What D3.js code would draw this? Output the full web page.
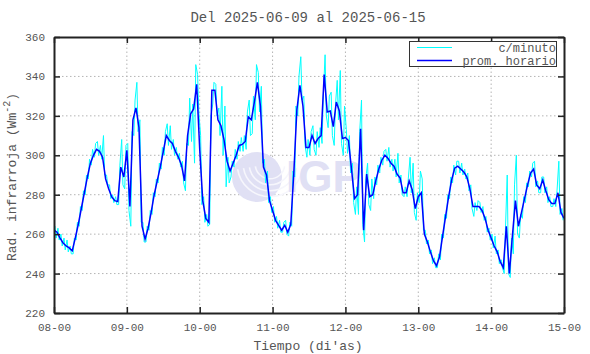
<!DOCTYPE html>
<html>
<head>
<meta charset="utf-8">
<script src="https://cdn.jsdelivr.net/npm/d3@7"></script>
<style>
  body { margin: 0; background: #fff; }
  text { font-family: "Liberation Mono", "DejaVu Sans Mono", monospace; fill: #555; }
</style>
</head>
<body>
<script>
let width = 590
let height = 354
let margin = { left: 54, right: 26, top: 37, bottom: 41 }

// etiquetas de los ejes
const diasLabels = ['08-00', '09-00', '10-00', '11-00', '12-00', '13-00', '14-00', '15-00']
const yTicks = [220, 240, 260, 280, 300, 320, 340, 360]

// promedio horario (Wm-2), una muestra por hora desde 08-00
const promHorario = [
  262, 261, 258, 255.5, 254, 253, 251.5, 258, 265, 273, 281, 289,
  296, 300, 303, 302, 299, 288, 283, 279, 277, 276.5, 294, 289,
  302.5, 274, 318, 324, 314, 264, 257.5, 263, 271, 280, 287, 294,
  302, 310, 307.5, 306, 302, 299, 295, 287, 310, 321, 323.5, 336,
  303, 277, 268, 266, 333, 333, 318, 315, 308, 297, 292, 296,
  300, 305, 305.5, 307, 319.5, 318, 327, 337, 325, 294, 290, 277,
  272, 267, 264.5, 262, 264.5, 261, 265, 291, 323, 335.5, 325, 304,
  304, 310, 306, 308.5, 310, 341, 322, 322.5, 314.5, 327, 322.5, 308.5,
  309, 307.5, 293, 278, 280, 313.5, 262, 290.5, 279, 280, 287, 293,
  297.5, 300, 298.5, 296, 294.5, 290.5, 288.5, 281, 281, 287, 282.5, 273,
  279, 281, 260, 256, 251, 246.5, 244, 248.5, 259, 269, 279, 287.5,
  293.5, 294.5, 293, 291.5, 289, 283, 274, 274, 274, 272, 268, 262,
  258, 254, 251, 246, 243, 264, 240, 259, 277, 264, 271, 278,
  285, 291, 293, 285, 283, 287.5, 282, 277.5, 275.5, 275.5, 281, 271,
  268
]

// datos por minuto: minimo y maximo dentro de cada hora
const cMin = [
  258, 257, 254, 252, 251, 250, 250, 257, 264, 272, 280, 288,
  295, 299, 300, 298, 290, 285, 278, 276, 275, 275, 285, 283,
  272, 264, 310, 312, 266, 256, 256, 262, 270, 279, 286, 293,
  300, 305, 303, 300, 298, 294, 286, 282, 305, 307, 296, 322,
  275, 266, 264, 265, 326, 320, 310, 300, 284, 286, 289, 294,
  298, 302, 302, 303, 310, 311, 318, 322, 296, 286, 276, 271,
  266, 263, 261, 261, 260, 259, 264, 289, 320, 328, 305, 299,
  300, 303, 300, 304, 306, 320, 314, 310, 305, 318, 306, 300,
  301, 291, 276, 270, 270, 265, 256, 275, 272, 278, 285, 291,
  295, 297, 294, 292, 289, 286, 280, 279, 279, 281, 271, 267,
  276, 262, 255, 250, 245, 243, 243, 247, 258, 268, 278, 286,
  290, 291, 290, 288, 282, 273, 269, 272, 271, 267, 261, 257,
  253, 250, 245, 243, 240, 240, 238, 250, 260, 258, 268, 276,
  284, 289, 284, 281, 281, 281, 276, 274, 274, 274, 270, 267
]
const cMax = [
  264, 263, 260, 258, 257, 254, 258, 266, 274, 282, 290, 298,
  303, 306, 307, 305, 310, 290, 285, 280, 279, 295, 308, 305,
  306, 312, 328, 337, 318, 266, 264, 272, 281, 288, 296, 304,
  312, 316, 315, 308, 304, 301, 297, 306, 329, 326, 346, 341,
  310, 279, 270, 320, 337, 336, 324, 335, 325, 299, 297, 303,
  307, 309, 310, 322, 328, 330, 346, 342, 335, 298, 292, 279,
  274, 269, 267, 266, 267, 266, 292, 325, 340, 350, 330, 308,
  312, 315, 312, 314, 330, 351, 330, 332, 325, 338, 343, 325,
  313, 310, 296, 284, 312, 328, 288, 296, 288, 289, 295, 299,
  302, 303, 304, 298, 298, 301, 290, 284, 288, 299, 296, 281,
  292, 288, 262, 257, 252, 248, 250, 260, 270, 280, 289, 295,
  297, 297, 296, 293, 291, 285, 276, 277, 276, 274, 269, 263,
  260, 259, 252, 247, 262, 290, 258, 285, 300, 270, 279, 286,
  292, 296, 297, 287, 289, 289, 284, 279, 278, 282, 297, 273
]

let svg = d3.select('body')
  .append('svg')
  .attr('width', width)
  .attr('height', height)

let x = d3.scaleLinear()
  .domain([0, 168])
  .range([margin.left, width - margin.right])

let y = d3.scaleLinear()
  .domain([220, 360])
  .range([height - margin.bottom, margin.top])

let x0 = margin.left, x1 = width - margin.right
let y0 = height - margin.bottom, y1 = margin.top
let dayTicks = diasLabels.map((d, i) => i * 24)

// rejilla punteada
let grid = svg.append('g')
grid.selectAll('.gx')
  .data(dayTicks.slice(1, -1))
  .enter().append('line')
  .attr('x1', d => x(d)).attr('x2', d => x(d))
  .attr('y1', y0).attr('y2', y1)
grid.selectAll('.gy')
  .data(yTicks.slice(1, -1))
  .enter().append('line')
  .attr('x1', x0).attr('x2', x1)
  .attr('y1', d => y(d)).attr('y2', d => y(d))
grid.selectAll('line')
  .attr('stroke', '#b4b4b4')
  .attr('stroke-width', 1)
  .attr('stroke-dasharray', '1.5,2.5')

// marca de agua IGP
let wm = svg.append('g')
wm.append('circle')
  .attr('cx', 257).attr('cy', 177).attr('r', 25)
  .attr('fill', '#e0e0f4')
let arcs = [14, 20, 26, 32]
arcs.forEach(r => {
  wm.append('path')
    .attr('d', d3.arc()({ innerRadius: r, outerRadius: r + 1.6, startAngle: Math.PI * 0.55, endAngle: Math.PI * 1.45 }))
    .attr('transform', 'translate(270,164)')
    .attr('fill', '#f6f6fc')
})
wm.append('text')
  .attr('x', 286).attr('y', 192)
  .style('font-family', '"Liberation Sans", Arial, sans-serif')
  .style('font-weight', 'bold')
  .style('font-size', '44px')
  .style('fill', '#e0e0f4')
  .text('IGP')

svg.append('clipPath').attr('id', 'clip')
  .append('rect')
  .attr('x', x0).attr('y', y1)
  .attr('width', x1 - x0).attr('height', y0 - y1)

// serie por minuto (cian)
let cyanPts = [[0, promHorario[0]]]
cMin.forEach((lo, i) => {
  let hi = cMax[i]
  if (promHorario[i + 1] >= promHorario[i]) {
    cyanPts.push([i + 0.3, lo], [i + 0.7, hi])
  } else {
    cyanPts.push([i + 0.3, hi], [i + 0.7, lo])
  }
})

let line = d3.line()
  .x(d => x(d[0]))
  .y(d => y(d[1]))

let plot = svg.append('g').attr('clip-path', 'url(#clip)')
plot.append('path')
  .datum(cyanPts)
  .attr('d', line)
  .attr('fill', 'none')
  .attr('stroke', '#00ffff')
  .attr('stroke-width', 1)

plot.append('path')
  .datum(promHorario.map((v, i) => [i, v]))
  .attr('d', line)
  .attr('fill', 'none')
  .attr('stroke', '#0000ff')
  .attr('stroke-width', 1.5)

// marco y marcas hacia dentro
let axB = d3.axisBottom(x).tickValues(dayTicks).tickFormat((d, i) => diasLabels[i]).tickSizeInner(-6).tickSizeOuter(0).tickPadding(10)
let axT = d3.axisTop(x).tickValues(dayTicks).tickFormat('').tickSizeInner(-6).tickSizeOuter(0)
let axL = d3.axisLeft(y).tickValues(yTicks).tickSizeInner(-6).tickSizeOuter(0).tickPadding(9)
let axR = d3.axisRight(y).tickValues(yTicks).tickFormat('').tickSizeInner(-6).tickSizeOuter(0)

let gB = svg.append('g').attr('transform', `translate(0,${y0})`).call(axB)
let gT = svg.append('g').attr('transform', `translate(0,${y1})`).call(axT)
let gL = svg.append('g').attr('transform', `translate(${x0},0)`).call(axL)
let gR = svg.append('g').attr('transform', `translate(${x1},0)`).call(axR)

;[gB, gT, gL, gR].forEach(g => {
  g.select('.domain').attr('stroke', '#222').attr('stroke-width', 2)
  g.selectAll('.tick line').attr('stroke', '#222').attr('stroke-width', 1.5)
  g.selectAll('.tick text')
    .style('font-family', '"Liberation Mono", monospace')
    .style('font-size', '11px')
    .style('fill', '#555')
})

// titulos
svg.append('text')
  .attr('x', 308).attr('y', 22)
  .attr('text-anchor', 'middle')
  .style('font-size', '14px')
  .text('Del 2025-06-09 al 2025-06-15')

svg.append('text')
  .attr('x', 308).attr('y', 350)
  .attr('text-anchor', 'middle')
  .style('font-size', '13px')
  .text('Tiempo (di\'as)')

let yl = svg.append('text')
  .attr('transform', 'translate(16,177) rotate(-90)')
  .attr('text-anchor', 'middle')
  .style('font-size', '13px')
yl.append('tspan').text('Rad. infrarroja (Wm')
yl.append('tspan').attr('dy', -6).style('font-size', '10px').text('-2')
yl.append('tspan').attr('dy', 6).text(')')

// leyenda
let leg = svg.append('g')
leg.append('rect')
  .attr('x', 409.5).attr('y', 41.5)
  .attr('width', 147).attr('height', 25)
  .attr('fill', '#fff').attr('stroke', '#333').attr('stroke-width', 1)
let legItems = [
  { name: 'c/minuto', color: '#00ffff', w: 1 },
  { name: 'prom. horario', color: '#0000ff', w: 1.5 }
]
legItems.forEach((d, i) => {
  let ly = 47.5 + i * 13
  leg.append('line')
    .attr('x1', 417).attr('x2', 452)
    .attr('y1', ly).attr('y2', ly)
    .attr('stroke', d.color).attr('stroke-width', d.w)
  leg.append('text')
    .attr('x', 556).attr('y', ly + 4)
    .attr('text-anchor', 'end')
    .style('font-size', '12px')
    .text(d.name)
})
</script>
</body>
</html>
